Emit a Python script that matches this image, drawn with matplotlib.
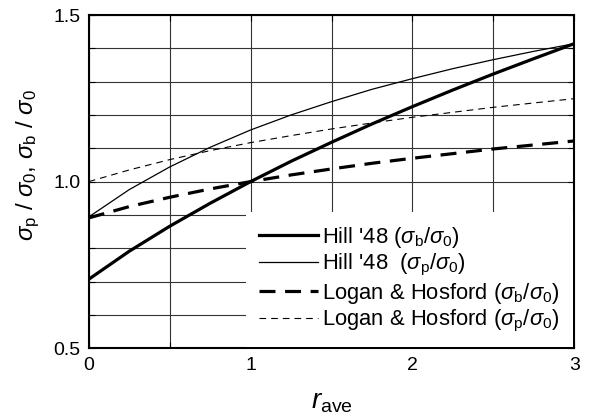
import matplotlib
matplotlib.use("Agg")
import matplotlib.pyplot as plt
from matplotlib.ticker import MultipleLocator, FormatStrFormatter

plt.rcParams['font.family'] = ['Liberation Sans', 'DejaVu Sans']
plt.rcParams['mathtext.fontset'] = 'custom'
plt.rcParams['mathtext.rm'] = 'Liberation Sans'
plt.rcParams['mathtext.it'] = 'Liberation Sans:italic'
plt.rcParams['mathtext.bf'] = 'Liberation Sans:bold'

r_ave = [0, 0.25, 0.5, 0.75, 1.0, 1.25, 1.5, 1.75, 2.0, 2.25, 2.5, 2.75, 3.0]
hill_b = [0.707, 0.791, 0.866, 0.935, 1.0, 1.061, 1.118, 1.173, 1.225, 1.275, 1.323, 1.369, 1.414]
hill_p = [0.894, 0.976, 1.044, 1.103, 1.155, 1.200, 1.240, 1.277, 1.309, 1.339, 1.366, 1.391, 1.414]
lh_b = [0.891, 0.925, 0.953, 0.978, 1.0, 1.020, 1.038, 1.055, 1.070, 1.084, 1.098, 1.110, 1.122]
lh_p = [1.0, 1.035, 1.066, 1.093, 1.117, 1.138, 1.158, 1.176, 1.193, 1.208, 1.223, 1.236, 1.249]

labels = [r"Hill '48 ($\sigma_{\rm b}$/$\sigma_{\rm 0}$)",
          r"Hill '48  ($\sigma_{\rm p}$/$\sigma_{\rm 0}$)",
          r"Logan & Hosford ($\sigma_{\rm b}$/$\sigma_{\rm 0}$)",
          r"Logan & Hosford ($\sigma_{\rm p}$/$\sigma_{\rm 0}$)"]

W, H = 592, 417
fig = plt.figure(figsize=(W / 100, H / 100), dpi=100)
ax = fig.add_axes([0.150, 0.165, 0.820, 0.799])

ax.plot(r_ave, hill_b, color='black', lw=2.3, label=labels[0])
ax.plot(r_ave, hill_p, color='black', lw=0.9, label=labels[1])
ax.plot(r_ave, lh_b, color='black', lw=2.3, dashes=(5, 3), label=labels[2])
ax.plot(r_ave, lh_p, color='black', lw=0.8, dashes=(6, 4.5), label=labels[3])

ax.set_xlim(0, 3)
ax.set_ylim(0.5, 1.5)
ax.xaxis.set_major_locator(MultipleLocator(1))
ax.xaxis.set_minor_locator(MultipleLocator(0.5))
ax.yaxis.set_major_locator(MultipleLocator(0.5))
ax.yaxis.set_minor_locator(MultipleLocator(0.1))
ax.yaxis.set_major_formatter(FormatStrFormatter('%.1f'))
ax.grid(True, which='both', color='0.2', lw=0.8)
ax.set_axisbelow(True)
ax.tick_params(which='both', direction='in', top=True, right=True, labelsize=14, length=4, width=0.8)
ax.tick_params(which='major', pad=6)
for s in ax.spines.values():
    s.set_linewidth(1.5)

ax.set_xlabel(r"$r_{\rm ave}$", fontsize=20, labelpad=11)
ax.set_ylabel(r"$\sigma_{\rm p}$ / $\sigma_{\rm 0}$, $\sigma_{\rm b}$ / $\sigma_{\rm 0}$", fontsize=16)

# fit the y label to the reference's extent (about 152 px long, centred near 165 px from top)
fig.canvas.draw()
lab = ax.yaxis.label
h = lab.get_window_extent().height
lab.set_fontsize(16 * 152.0 / h)
ax_bb = ax.get_window_extent()
y_center_px = H - 165
x_right_px = 42
ax.yaxis.set_label_coords((x_right_px - ax_bb.x0) / ax_bb.width,
                          (y_center_px - ax_bb.y0) / ax_bb.height)

leg = ax.legend(loc='lower right', frameon=True, fancybox=False, framealpha=1,
                facecolor='white', edgecolor='white', fontsize=15.8,
                handlelength=2.7, handletextpad=0.2, labelspacing=0.1,
                borderaxespad=0.05, borderpad=0.6)
leg.get_frame().set_linewidth(0)

fig.savefig("out.png", dpi=100)
